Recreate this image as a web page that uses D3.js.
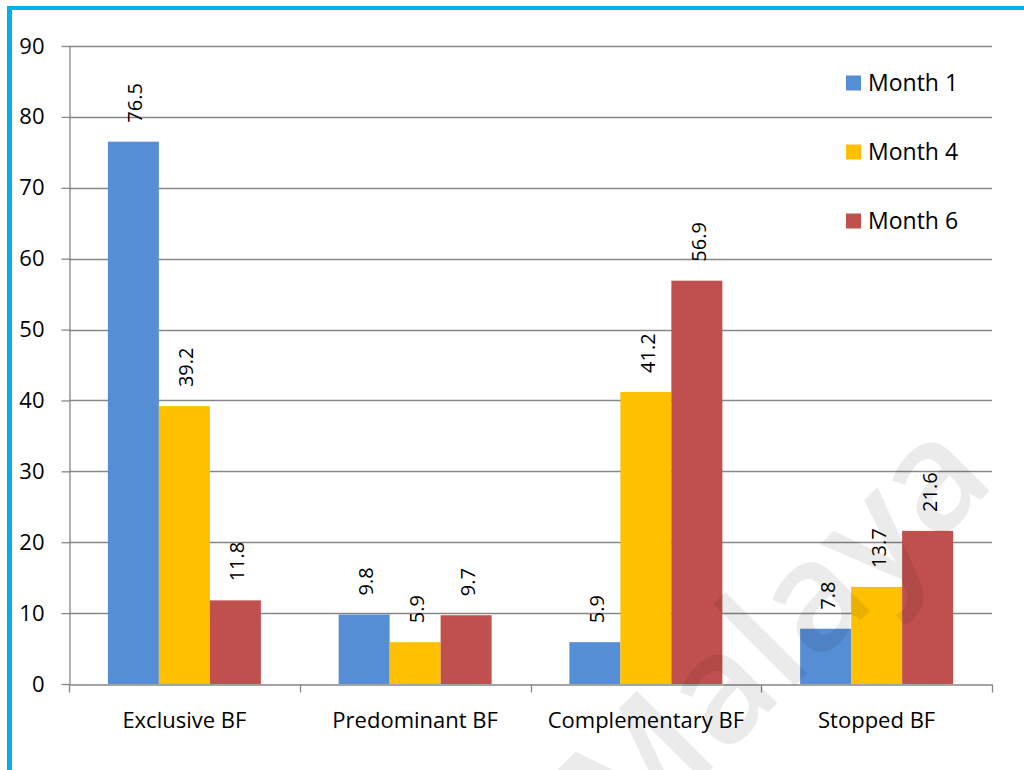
<!DOCTYPE html>
<html>
<head>
<meta charset="utf-8">
<script src="https://cdn.jsdelivr.net/npm/d3@7"></script>
<style>
  html, body { margin: 0; padding: 0; background: #fff; }
  svg { display: block; }
  text { font-family: "Open Sans", "Liberation Sans", sans-serif; fill: #000; }
</style>
</head>
<body>
<svg id="chart" width="1024" height="770"></svg>
<script>
// Breastfeeding status by month
const categories = ["Exclusive BF", "Predominant BF", "Complementary BF", "Stopped BF"];
const seriesNames = ["Month 1", "Month 4", "Month 6"];
const month1 = [76.5, 9.8, 5.9, 7.8];
const month4 = [39.2, 5.9, 41.2, 13.7];
const month6 = [11.8, 9.7, 56.9, 21.6];
const yTicks = [0, 10, 20, 30, 40, 50, 60, 70, 80, 90];
const colors = ["#558ED5", "#FFC000", "#C0504D"];

const series = [month1, month4, month6];

const svg = d3.select("#chart");
const margin = { left: 69, right: 992, top: 46, bottom: 684 };

// frame lines along the top and left edge
svg.append("rect").attr("x", 7).attr("y", 6).attr("width", 1017).attr("height", 4).attr("fill", "#00B0F0");
svg.append("rect").attr("x", 7).attr("y", 6).attr("width", 5).attr("height", 764).attr("fill", "#00B0F0");

const x0 = d3.scaleBand().domain(categories).range([margin.left, margin.right]).paddingInner(0).paddingOuter(0);
const inner = 0.663;
const x1 = d3.scaleBand().domain(seriesNames).range([0, x0.bandwidth() * inner]);
const y = d3.scaleLinear().domain([0, 90]).range([margin.bottom, margin.top]);

// gridlines
svg.append("g").selectAll("line").data(yTicks.filter(d => d > 0)).join("line")
  .attr("x1", margin.left).attr("x2", margin.right)
  .attr("y1", d => Math.round(y(d)) + 0.5).attr("y2", d => Math.round(y(d)) + 0.5)
  .attr("stroke", "#868686").attr("stroke-width", 1.3);

// y axis
const yAxis = d3.axisLeft(y).tickValues(yTicks).tickSize(8).tickPadding(17).tickSizeOuter(0);
const gy = svg.append("g").attr("transform", `translate(${margin.left + 0.5},0)`).call(yAxis);
gy.selectAll("path, line").attr("stroke", "#868686").attr("stroke-width", 1.3);
gy.selectAll("text").attr("font-size", 22).style("font-family", "'Open Sans', sans-serif").attr("fill", "#000");

// bars
const groups = svg.append("g").selectAll("g").data(categories).join("g")
  .attr("transform", c => `translate(${x0(c) + x0.bandwidth() * (1 - inner) / 2},0)`);

groups.each(function (c, ci) {
  const g = d3.select(this);
  seriesNames.forEach((s, si) => {
    const v = series[si][ci];
    g.append("rect")
      .attr("x", x1(s)).attr("width", x1.bandwidth())
      .attr("y", y(v)).attr("height", y(0) - y(v))
      .attr("fill", colors[si]);
    const cx = x1(s) + x1.bandwidth() / 2;
    g.append("text")
      .attr("transform", `translate(${cx + 9},${y(v) - 19}) rotate(-90)`)
      .attr("text-anchor", "start")
      .attr("font-size", 20)
      .text(v.toFixed(1));
  });
});

// x axis
const xAxis = d3.axisBottom(x0).tickSize(8).tickPadding(20).tickSizeOuter(0);
const gx = svg.append("g").attr("transform", `translate(0,${margin.bottom + 0.5})`).call(xAxis);
gx.select("path").attr("stroke", "#868686").attr("stroke-width", 1.3);
gx.selectAll(".tick line").remove();
gx.selectAll("text").attr("font-size", 22).style("font-family", "'Open Sans', sans-serif").attr("fill", "#000");
// tick marks at category boundaries
const bounds = categories.map(c => x0(c)).concat([margin.right]);
gx.selectAll(".bound").data(bounds).join("line").attr("class", "bound")
  .attr("x1", d => Math.round(d) + 0.5).attr("x2", d => Math.round(d) + 0.5)
  .attr("y1", 0).attr("y2", 8)
  .attr("stroke", "#868686").attr("stroke-width", 1.3);

// legend
const legend = svg.append("g").attr("transform", "translate(846,83)");
seriesNames.forEach((s, i) => {
  const row = legend.append("g").attr("transform", `translate(0,${i * 69})`);
  row.append("rect").attr("x", 0).attr("y", -7.5).attr("width", 15).attr("height", 15).attr("fill", colors[i]);
  row.append("text").attr("x", 22).attr("y", 8).attr("font-size", 23).text(s);
});

// semi-transparent watermark laid over the chart
svg.append("text")
  .attr("transform", "translate(770,628) rotate(-45)")
  .attr("text-anchor", "middle")
  .attr("dominant-baseline", "central")
  .attr("font-size", 152)
  .attr("font-weight", 600)
  .attr("fill", "#000")
  .attr("opacity", 0.075)
  .style("font-family", "'Open Sans', sans-serif")
  .text("Malaya");
</script>
</body>
</html>
